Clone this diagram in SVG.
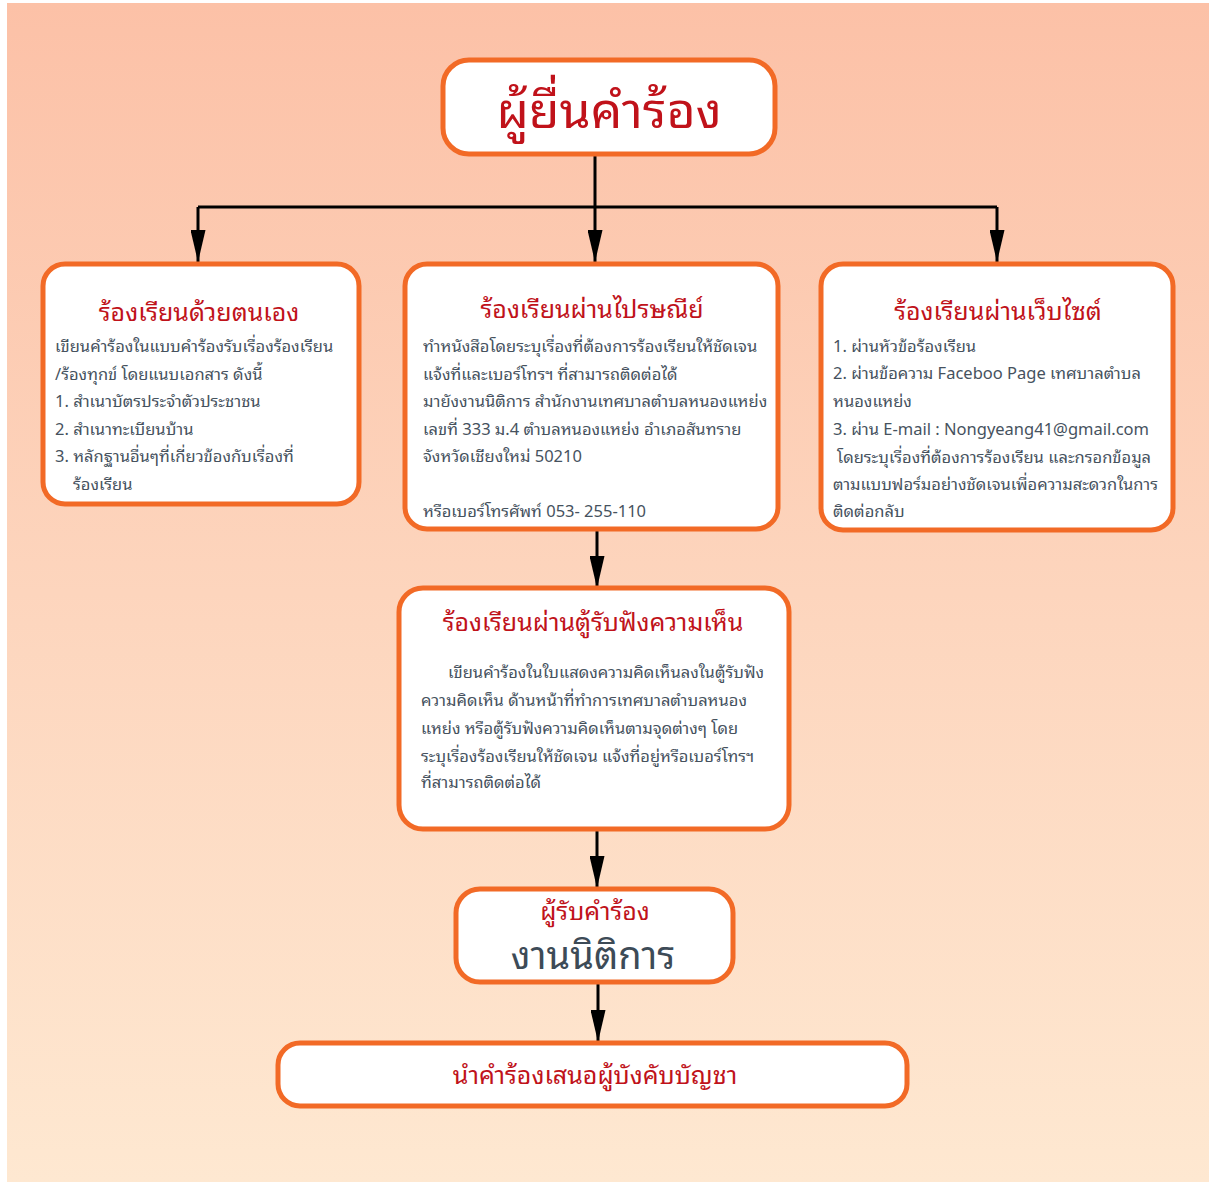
<svg xmlns="http://www.w3.org/2000/svg" width="1209" height="1182" viewBox="0 0 1209 1182">
<defs>
<linearGradient id="bg" x1="0" y1="0" x2="0" y2="1">
<stop offset="0" stop-color="#FCC1A7"/>
<stop offset="0.5" stop-color="#FDD5BD"/>
<stop offset="1" stop-color="#FEE8D1"/>
</linearGradient>
<marker id="arr" viewBox="0 0 32 15" refX="32" refY="7.5" markerWidth="32" markerHeight="15" markerUnits="userSpaceOnUse" orient="auto">
<path d="M0,0 L32,7.5 L0,15 Z" fill="#000"/>
</marker>
</defs>
<style>
.box{fill:#fff;stroke:#F26A26;stroke-width:5}
.conn{fill:none;stroke:#000;stroke-width:3}
.t{font-family:"Noto Sans Thai Looped","Tahoma","Noto Sans Thai","Noto Sans","DejaVu Sans",sans-serif}
.title{fill:#C0121A;font-size:25px;text-anchor:middle}
.body{fill:#46525E;font-size:16.5px}
</style>
<rect x="0" y="0" width="1209" height="1182" fill="#fff"/>
<rect x="7" y="3" width="1202" height="1179" fill="url(#bg)"/>
<g id="connectors">
<path class="conn" d="M595,154 V207 M198,207 H997"/>
<path class="conn" d="M198,207 V262" marker-end="url(#arr)"/>
<path class="conn" d="M595,207 V262" marker-end="url(#arr)"/>
<path class="conn" d="M997,207 V262" marker-end="url(#arr)"/>
<path class="conn" d="M597,530 V588" marker-end="url(#arr)"/>
<path class="conn" d="M597,829 V888" marker-end="url(#arr)"/>
<path class="conn" d="M598,983 V1042" marker-end="url(#arr)"/>
</g>
<g id="n-petitioner">
<rect class="box" x="443" y="60" width="332" height="94" rx="26"/>
<text class="t" x="609" y="128" fill="#C0121A" font-size="50" text-anchor="middle">ผู้ยื่นคำร้อง</text>
</g>
<g id="n-self">
<rect class="box" x="43" y="264" width="316" height="240" rx="22"/>
<text class="t title" x="199" y="321">ร้องเรียนด้วยตนเอง</text>
<text class="t body" x="55" y="352">เขียนคำร้องในแบบคำร้องรับเรื่องร้องเรียน</text>
<text class="t body" x="55" y="380">/ร้องทุกข์ โดยแนบเอกสาร ดังนี้</text>
<text class="t body" x="55" y="407">1. สำเนาบัตรประจำตัวประชาชน</text>
<text class="t body" x="55" y="435">2. สำเนาทะเบียนบ้าน</text>
<text class="t body" x="55" y="462">3. หลักฐานอื่นๆที่เกี่ยวข้องกับเรื่องที่</text>
<text class="t body" x="73" y="490">ร้องเรียน</text>
</g>
<g id="n-post">
<rect class="box" x="405" y="264" width="373" height="265" rx="22"/>
<text class="t title" x="592" y="318">ร้องเรียนผ่านไปรษณีย์</text>
<text class="t body" x="423" y="352">ทำหนังสือโดยระบุเรื่องที่ต้องการร้องเรียนให้ชัดเจน</text>
<text class="t body" x="423" y="380">แจ้งที่และเบอร์โทรฯ ที่สามารถติดต่อได้</text>
<text class="t body" x="423" y="407">มายังงานนิติการ สำนักงานเทศบาลตำบลหนองแหย่ง</text>
<text class="t body" x="423" y="435">เลขที่ 333 ม.4 ตำบลหนองแหย่ง อำเภอสันทราย</text>
<text class="t body" x="423" y="462">จังหวัดเชียงใหม่ 50210</text>
<text class="t body" x="423" y="517">หรือเบอร์โทรศัพท์ 053- 255-110</text>
</g>
<g id="n-web">
<rect class="box" x="821" y="264" width="352" height="266" rx="22"/>
<text class="t title" x="998" y="320">ร้องเรียนผ่านเว็บไซต์</text>
<text class="t body" x="833" y="352">1. ผ่านหัวข้อร้องเรียน</text>
<text class="t body" x="833" y="379">2. ผ่านข้อความ Faceboo Page เทศบาลตำบล</text>
<text class="t body" x="833" y="407">หนองแหย่ง</text>
<text class="t body" x="833" y="435">3. ผ่าน E-mail : Nongyeang41@gmail.com</text>
<text class="t body" x="837" y="463">โดยระบุเรื่องที่ต้องการร้องเรียน และกรอกข้อมูล</text>
<text class="t body" x="833" y="490">ตามแบบฟอร์มอย่างชัดเจนเพื่อความสะดวกในการ</text>
<text class="t body" x="833" y="517">ติดต่อกลับ</text>
</g>
<g id="n-box">
<rect class="box" x="399" y="588" width="390" height="241" rx="24"/>
<text class="t title" x="593" y="631" font-size="27">ร้องเรียนผ่านตู้รับฟังความเห็น</text>
<text class="t body" x="448" y="678">เขียนคำร้องในใบแสดงความคิดเห็นลงในตู้รับฟัง</text>
<text class="t body" x="421" y="706">ความคิดเห็น ด้านหน้าที่ทำการเทศบาลตำบลหนอง</text>
<text class="t body" x="421" y="734">แหย่ง หรือตู้รับฟังความคิดเห็นตามจุดต่างๆ โดย</text>
<text class="t body" x="421" y="762">ระบุเรื่องร้องเรียนให้ชัดเจน แจ้งที่อยู่หรือเบอร์โทรฯ</text>
<text class="t body" x="421" y="788">ที่สามารถติดต่อได้</text>
</g>
<g id="n-receiver">
<rect class="box" x="456" y="889" width="277" height="93" rx="24"/>
<text class="t title" x="595" y="920" font-size="25">ผู้รับคำร้อง</text>
<text class="t" x="593" y="969" fill="#3D4B57" font-size="38" text-anchor="middle">งานนิติการ</text>
</g>
<g id="n-supervisor">
<rect class="box" x="278" y="1043" width="629" height="63" rx="22"/>
<text class="t title" x="595" y="1084">นำคำร้องเสนอผู้บังคับบัญชา</text>
</g>
</svg>
